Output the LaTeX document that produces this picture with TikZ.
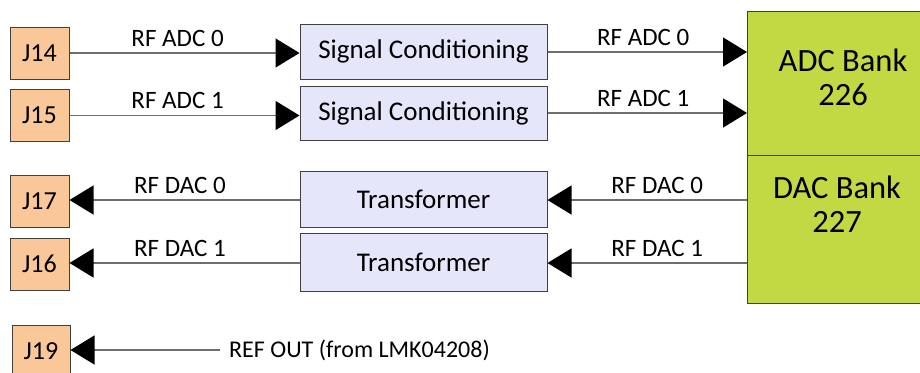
\documentclass[tikz,border=0pt]{standalone}
\usepackage{fontspec}
\setmainfont{Carlito}
\usetikzlibrary{arrows.meta}
\definecolor{jfill}{HTML}{FAC898}
\definecolor{boxfill}{HTML}{E6E6FA}
\definecolor{bankfill}{HTML}{C2D944}
\definecolor{edge}{HTML}{404040}
\definecolor{wire}{HTML}{6E6E6E}
\tikzset{
  jbox/.style={draw=edge, line width=1pt, fill=jfill, minimum width=59pt, minimum height=52pt, inner sep=0pt, font=\fontsize{26}{30}\selectfont},
  procbox/.style={draw=edge, line width=1pt, fill=boxfill, minimum width=247pt, minimum height=55pt, inner sep=0pt, font=\fontsize{27}{30}\selectfont},
  bankbox/.style={draw=edge, line width=1pt, fill=bankfill, inner sep=0pt},
  banktext/.style={align=center, font=\fontsize{32.5}{34}\selectfont},
  wirelab/.style={font=\fontsize{25}{28}\selectfont, inner sep=1pt},
  sig/.style={draw=wire, line width=1.3pt, -{Triangle[length=24pt, width=29pt, fill=black, color=black]}}
}
\begin{document}
\begin{tikzpicture}[x=1pt, y=-1pt]
\useasboundingbox (0,0) rectangle (920,372);
% connectors (J)
\node[jbox] (j14) at (39.5,53) {J14};
\node[jbox] (j15) at (39.5,115.5) {J15};
\node[jbox] (j17) at (39.5,201) {J17};
\node[jbox] (j16) at (39.5,264) {J16};
\node[jbox, minimum width=58pt] (j19) at (41,351) {J19};
% processing boxes
\node[procbox] (sc0) at (423.5,51.5) {Signal Conditioning};
\node[procbox, minimum height=54pt] (sc1) at (423.5,113) {Signal Conditioning};
\node[procbox, minimum height=56pt] (tr0) at (423.5,199) {Transformer};
\node[procbox, minimum height=58pt] (tr1) at (423.5,262) {Transformer};
% banks
\path[bankbox] (747,11) rectangle (945,155);
\path[bankbox] (747,155) rectangle (945,303);
\coordinate (adcw0) at (747,52);
\coordinate (adcw1) at (747,113);
\coordinate (dacw0) at (747,200);
\coordinate (dacw1) at (747,263);
\node[banktext] (adcbank) at (843,77) {ADC Bank\\226};
\node[banktext] (dacbank) at (837,204) {DAC Bank\\227};
% wires
\draw[sig] (j14.east) -- node[wirelab, above, pos=0.47, yshift=5pt] (l1) {RF ADC 0} (sc0.west |- j14.east);
\draw[sig] (j15.east) -- node[wirelab, above, pos=0.47, yshift=5pt] (l2) {RF ADC 1} (sc1.west |- j15.east);
\draw[sig] (sc0.east |- adcw0) -- node[wirelab, above, pos=0.48, yshift=5pt] (l3) {RF ADC 0} (adcw0);
\draw[sig] (sc1.east |- adcw1) -- node[wirelab, above, pos=0.48, yshift=5pt] (l4) {RF ADC 1} (adcw1);
\draw[sig] (dacw0) -- node[wirelab, above, pos=0.45, yshift=5pt] (l5) {RF DAC 0} (tr0.east |- dacw0);
\draw[sig] (dacw1) -- node[wirelab, above, pos=0.45, yshift=5pt] (l6) {RF DAC 1} (tr1.east |- dacw1);
\draw[sig] (tr0.west |- dacw0) -- node[wirelab, above, pos=0.52, yshift=5pt] (l7) {RF DAC 0} (j17.east |- dacw0);
\draw[sig] (tr1.west |- dacw1) -- node[wirelab, above, pos=0.52, yshift=5pt] (l8) {RF DAC 1} (j16.east |- dacw1);
\node[wirelab, anchor=west, inner sep=0pt, font=\fontsize{24}{28}\selectfont] (refout) at (229,350) {REF OUT (from LMK04208)};
\coordinate (refstart) at (220,350);
\draw[sig] (refstart) -- (j19.east |- refstart);
\end{tikzpicture}
\end{document}
